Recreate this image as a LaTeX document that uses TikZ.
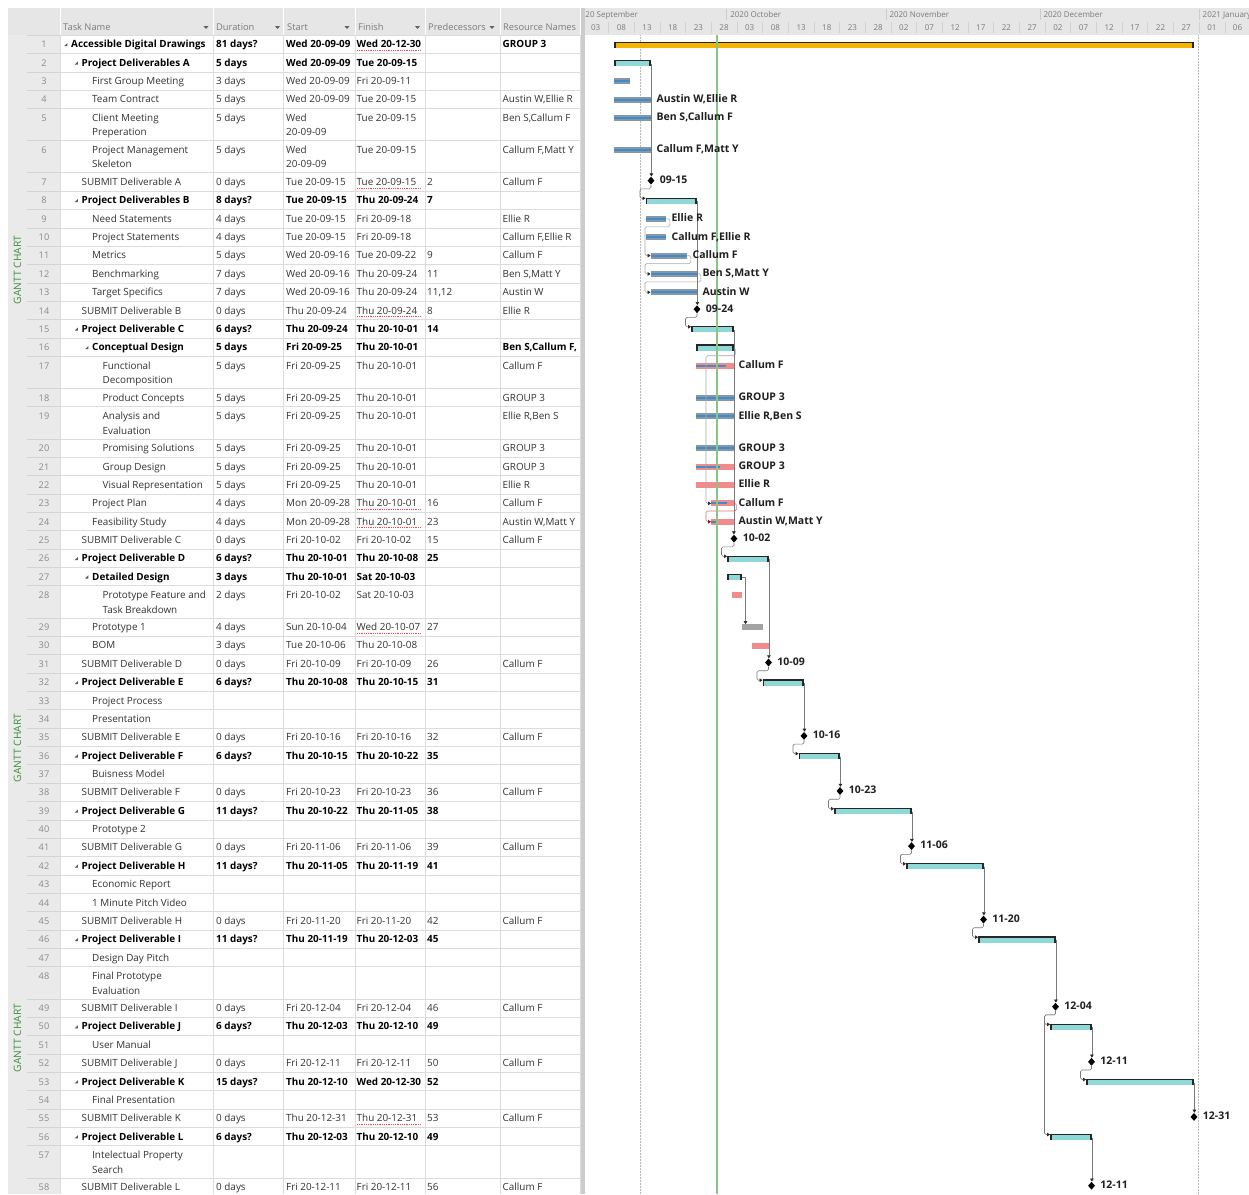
\documentclass[tikz,border=0pt]{standalone}
\usepackage{fontspec}
\setmainfont{Open Sans}
\usetikzlibrary{shapes.geometric,arrows.meta,calc,positioning}

\definecolor{hdrbg}{HTML}{E6E6E6}
\definecolor{sidebg}{HTML}{EAEAEA}
\definecolor{gridc}{HTML}{DCDCDC}
\definecolor{gridside}{HTML}{D4D4D4}
\definecolor{txt}{HTML}{333333}
\definecolor{hdrtxt}{HTML}{7A7A7A}
\definecolor{numtxt}{HTML}{8A8A8A}
\definecolor{ganttgreen}{HTML}{3A8F3A}
\definecolor{goldbar}{HTML}{F4B400}
\definecolor{cyanbar}{HTML}{8ED8D8}
\definecolor{taskgray}{HTML}{8797A8}
\definecolor{stripeblue}{HTML}{3F8CCB}
\definecolor{critpink}{HTML}{F28C8C}
\definecolor{plaingray}{HTML}{A3A3A3}
\definecolor{linkgray}{HTML}{7A7A7A}
\definecolor{linklight}{HTML}{A8A8A8}
\definecolor{linkred}{HTML}{E07070}
\definecolor{todaygreen}{RGB}{135,198,135}

\newcommand{\tabsz}{\fontsize{9.9}{11}\selectfont}
\newcommand{\hdrsz}{\fontsize{9.3}{11}\selectfont}
\newcommand{\tlsz}{\fontsize{8}{10}\selectfont}
\newcommand{\lblsz}{\fontsize{10.5}{12}\selectfont\bfseries}

% task bar node: name, style, x1, x2, yc
\newcommand{\barnode}[5]{\node[#2, minimum width={(#4)-(#3)}] (#1) at (#3,#5) {};}
% progress stripe: x1, x2, yc
\newcommand{\stripebar}[3]{\fill[stripeblue] (#1,#3-1) rectangle (#2,#3+1);}
% summary bar: name, style, x1, x2, yc
\newcommand{\summbar}[5]{%
  \node[#2, minimum width={(#4)-(#3)}] (#1) at (#3,#5+0.8) {};
  \draw[black!85, line width=1.3pt] (#3,#5-2.3) -- (#4,#5-2.3);
  \draw[black!85, line width=1.6pt] (#3+0.8,#5-2.95) -- (#3+0.8,#5+3.2)
                                     (#4-0.8,#5-2.95) -- (#4-0.8,#5+3.2);}
% summary end -> milestone
\newcommand{\drop}[2]{\draw[conn] (#1.east) -- (#1.east |- #2.north);}
% milestone -> next summary
\newcommand{\jog}[2]{\draw[conn, rounded corners=1.5pt] (#1.south) -- ++(0,4) -| ($(#2.west)+(-5.5,-3)$) -- ($(#2.west)+(0,-3)$);}

\begin{document}
\begin{tikzpicture}[x=1pt,y=-1pt,
  cell/.style={anchor=base west, inner sep=0pt},
  hdr/.style={anchor=base west, inner sep=0pt, font=\hdrsz, text=hdrtxt},
  tl/.style={inner sep=0pt, font=\tlsz, text=hdrtxt},
  bar/.style={rectangle, inner sep=0pt, minimum height=6pt, anchor=west, draw=none},
  tbar/.style={bar, fill=taskgray},
  cbar/.style={bar, fill=critpink},
  pbar/.style={bar, fill=plaingray},
  sbar/.style={bar, fill=cyanbar, minimum height=4.8pt},
  gbar/.style={bar, fill=goldbar, minimum height=4.8pt},
  mile/.style={diamond, fill=black, draw=none, inner sep=0pt, minimum width=7pt, minimum height=8pt},
  lbl/.style={font=\lblsz, text=black!88, inner sep=0pt, text height=7.6pt, text depth=2pt},
  conn/.style={draw=linkgray, line width=0.6pt, -{Triangle[width=3.6pt,length=3pt,color=black!85]}},
  tlink/.style={conn, draw=linklight},
  rlink/.style={draw=linkred, line width=0.6pt, rounded corners=1.5pt, -{Triangle[width=3.6pt,length=3pt,color=red!70!black]}},
  gantt/.style={rotate=90, inner sep=0pt, text=ganttgreen, font=\fontsize{10.2}{12}\selectfont}
]
\useasboundingbox (0,0) rectangle (1249,1194);
\fill[white] (0,0) rectangle (1249,1194);

% ---------- backgrounds ----------
\fill[hdrbg] (8,8) rectangle (580,35);
\fill[hdrbg] (585,8) rectangle (1249,35);
\fill[sidebg] (8,35) rectangle (60,1194);
\fill[gray!40] (580.5,8) rectangle (584.5,1194);
\foreach \x in {60,213,283,355,425,500}{\draw[white, line width=1pt] (\x,8) -- (\x,35);}

% ---------- table header ----------
\node[hdr] (hTask) at (63,30.5) {Task Name};
\node[hdr] (hDur) at (216,30.5) {Duration};
\node[hdr] (hStart) at (287,30.5) {Start};
\node[hdr] (hFin) at (358,30.5) {Finish};
\node[hdr] (hPred) at (428,30.5) {Predecessors};
\node[hdr] (hRes) at (503,30.5) {Resource Names};
\foreach \x in {206,277.5,347,417.5,492}{\fill[hdrtxt!80!black] (\x-2.6,26) -- (\x+2.6,26) -- (\x,29) -- cycle;}

% ---------- grid ----------
\draw[gridc] (60,35) -- (580,35);
\draw[gridside] (27,35) -- (60,35);
\foreach \x in {60,213,283,355,425,500,580}{\draw[gridc] (\x,35) -- (\x,1194);}

% ---------- rotated side labels ----------
\node[gantt] (g1) at (17.5,270) {GANTT CHART};
\node[gantt] (g2) at (17.5,748) {GANTT CHART};
\node[gantt] (g3) at (17.5,1038) {GANTT CHART};

% ---------- table rows ----------
\foreach \rn/\yt/\hh/\lv/\bb/\nm/\nmb/\du/\st/\fn/\pr/\rs in {
1/35.0/18.36/0/1/{Accessible Digital Drawings}/{}/{81 days?}/{Wed 20-09-09}/{Wed 20-12-30}/{}/{GROUP 3},
2/53.4/18.36/1/1/{Project Deliverables A}/{}/{5 days}/{Wed 20-09-09}/{Tue 20-09-15}/{}/{},
3/71.7/18.36/2/0/{First Group Meeting}/{}/{3 days}/{Wed 20-09-09}/{Fri 20-09-11}/{}/{},
4/90.1/18.36/2/0/{Team Contract}/{}/{5 days}/{Wed 20-09-09}/{Tue 20-09-15}/{}/{Austin W,Ellie R},
5/108.4/32.1/2/0/{Client Meeting}/{Preperation}/{5 days}/{Wed}/{Tue 20-09-15}/{}/{Ben S,Callum F},
6/140.5/32.1/2/0/{Project Management}/{Skeleton}/{5 days}/{Wed}/{Tue 20-09-15}/{}/{Callum F,Matt Y},
7/172.6/18.36/1/0/{SUBMIT Deliverable A}/{}/{0 days}/{Tue 20-09-15}/{Tue 20-09-15}/{2}/{Callum F},
8/191.0/18.36/1/1/{Project Deliverables B}/{}/{8 days?}/{Tue 20-09-15}/{Thu 20-09-24}/{7}/{},
9/209.4/18.36/2/0/{Need Statements}/{}/{4 days}/{Tue 20-09-15}/{Fri 20-09-18}/{}/{Ellie R},
10/227.7/18.36/2/0/{Project Statements}/{}/{4 days}/{Tue 20-09-15}/{Fri 20-09-18}/{}/{Callum F,Ellie R},
11/246.1/18.36/2/0/{Metrics}/{}/{5 days}/{Wed 20-09-16}/{Tue 20-09-22}/{9}/{Callum F},
12/264.4/18.36/2/0/{Benchmarking}/{}/{7 days}/{Wed 20-09-16}/{Thu 20-09-24}/{11}/{Ben S,Matt Y},
13/282.8/18.36/2/0/{Target Specifics}/{}/{7 days}/{Wed 20-09-16}/{Thu 20-09-24}/{11,12}/{Austin W},
14/301.2/18.36/1/0/{SUBMIT Deliverable B}/{}/{0 days}/{Thu 20-09-24}/{Thu 20-09-24}/{8}/{Ellie R},
15/319.5/18.36/1/1/{Project Deliverable C}/{}/{6 days?}/{Thu 20-09-24}/{Thu 20-10-01}/{14}/{},
16/337.9/18.36/2/1/{Conceptual Design}/{}/{5 days}/{Fri 20-09-25}/{Thu 20-10-01}/{}/{Ben S,Callum F,},
17/356.2/32.1/3/0/{Functional}/{Decomposition}/{5 days}/{Fri 20-09-25}/{Thu 20-10-01}/{}/{Callum F},
18/388.3/18.36/3/0/{Product Concepts}/{}/{5 days}/{Fri 20-09-25}/{Thu 20-10-01}/{}/{GROUP 3},
19/406.7/32.1/3/0/{Analysis and}/{Evaluation}/{5 days}/{Fri 20-09-25}/{Thu 20-10-01}/{}/{Ellie R,Ben S},
20/438.8/18.36/3/0/{Promising Solutions}/{}/{5 days}/{Fri 20-09-25}/{Thu 20-10-01}/{}/{GROUP 3},
21/457.2/18.36/3/0/{Group Design}/{}/{5 days}/{Fri 20-09-25}/{Thu 20-10-01}/{}/{GROUP 3},
22/475.5/18.36/3/0/{Visual Representation}/{}/{5 days}/{Fri 20-09-25}/{Thu 20-10-01}/{}/{Ellie R},
23/493.9/18.36/2/0/{Project Plan}/{}/{4 days}/{Mon 20-09-28}/{Thu 20-10-01}/{16}/{Callum F},
24/512.2/18.36/2/0/{Feasibility Study}/{}/{4 days}/{Mon 20-09-28}/{Thu 20-10-01}/{23}/{Austin W,Matt Y},
25/530.6/18.36/1/0/{SUBMIT Deliverable C}/{}/{0 days}/{Fri 20-10-02}/{Fri 20-10-02}/{15}/{Callum F},
26/549.0/18.36/1/1/{Project Deliverable D}/{}/{6 days?}/{Thu 20-10-01}/{Thu 20-10-08}/{25}/{},
27/567.3/18.36/2/1/{Detailed Design}/{}/{3 days}/{Thu 20-10-01}/{Sat 20-10-03}/{}/{},
28/585.7/32.1/3/0/{Prototype Feature and}/{Task Breakdown}/{2 days}/{Fri 20-10-02}/{Sat 20-10-03}/{}/{},
29/617.8/18.36/2/0/{Prototype 1}/{}/{4 days}/{Sun 20-10-04}/{Wed 20-10-07}/{27}/{},
30/636.1/18.36/2/0/{BOM}/{}/{3 days}/{Tue 20-10-06}/{Thu 20-10-08}/{}/{},
31/654.5/18.36/1/0/{SUBMIT Deliverable D}/{}/{0 days}/{Fri 20-10-09}/{Fri 20-10-09}/{26}/{Callum F},
32/672.9/18.36/1/1/{Project Deliverable E}/{}/{6 days?}/{Thu 20-10-08}/{Thu 20-10-15}/{31}/{},
33/691.2/18.36/2/0/{Project Process}/{}/{}/{}/{}/{}/{},
34/709.6/18.36/2/0/{Presentation}/{}/{}/{}/{}/{}/{},
35/727.9/18.36/1/0/{SUBMIT Deliverable E}/{}/{0 days}/{Fri 20-10-16}/{Fri 20-10-16}/{32}/{Callum F},
36/746.3/18.36/1/1/{Project Deliverable F}/{}/{6 days?}/{Thu 20-10-15}/{Thu 20-10-22}/{35}/{},
37/764.7/18.36/2/0/{Buisness Model}/{}/{}/{}/{}/{}/{},
38/783.0/18.36/1/0/{SUBMIT Deliverable F}/{}/{0 days}/{Fri 20-10-23}/{Fri 20-10-23}/{36}/{Callum F},
39/801.4/18.36/1/1/{Project Deliverable G}/{}/{11 days?}/{Thu 20-10-22}/{Thu 20-11-05}/{38}/{},
40/819.7/18.36/2/0/{Prototype 2}/{}/{}/{}/{}/{}/{},
41/838.1/18.36/1/0/{SUBMIT Deliverable G}/{}/{0 days}/{Fri 20-11-06}/{Fri 20-11-06}/{39}/{Callum F},
42/856.5/18.36/1/1/{Project Deliverable H}/{}/{11 days?}/{Thu 20-11-05}/{Thu 20-11-19}/{41}/{},
43/874.8/18.36/2/0/{Economic Report}/{}/{}/{}/{}/{}/{},
44/893.2/18.36/2/0/{1 Minute Pitch Video}/{}/{}/{}/{}/{}/{},
45/911.5/18.36/1/0/{SUBMIT Deliverable H}/{}/{0 days}/{Fri 20-11-20}/{Fri 20-11-20}/{42}/{Callum F},
46/929.9/18.36/1/1/{Project Deliverable I}/{}/{11 days?}/{Thu 20-11-19}/{Thu 20-12-03}/{45}/{},
47/948.3/18.36/2/0/{Design Day Pitch}/{}/{}/{}/{}/{}/{},
48/966.6/32.1/2/0/{Final Prototype}/{Evaluation}/{}/{}/{}/{}/{},
49/998.7/18.36/1/0/{SUBMIT Deliverable I}/{}/{0 days}/{Fri 20-12-04}/{Fri 20-12-04}/{46}/{Callum F},
50/1017.1/18.36/1/1/{Project Deliverable J}/{}/{6 days?}/{Thu 20-12-03}/{Thu 20-12-10}/{49}/{},
51/1035.4/18.36/2/0/{User Manual}/{}/{}/{}/{}/{}/{},
52/1053.8/18.36/1/0/{SUBMIT Deliverable J}/{}/{0 days}/{Fri 20-12-11}/{Fri 20-12-11}/{50}/{Callum F},
53/1072.2/18.36/1/1/{Project Deliverable K}/{}/{15 days?}/{Thu 20-12-10}/{Wed 20-12-30}/{52}/{},
54/1090.5/18.36/2/0/{Final Presentation}/{}/{}/{}/{}/{}/{},
55/1108.9/18.36/1/0/{SUBMIT Deliverable K}/{}/{0 days}/{Thu 20-12-31}/{Thu 20-12-31}/{53}/{Callum F},
56/1127.2/18.36/1/1/{Project Deliverable L}/{}/{6 days?}/{Thu 20-12-03}/{Thu 20-12-10}/{49}/{},
57/1145.6/32.1/2/0/{Intelectual Property}/{Search}/{}/{}/{}/{}/{},
58/1177.7/18.36/1/0/{SUBMIT Deliverable L}/{}/{0 days}/{Fri 20-12-11}/{Fri 20-12-11}/{56}/{Callum F}}{
  \ifnum\bb=1 \def\cf{\bfseries}\def\cc{black}\else\def\cf{\mdseries}\def\cc{txt}\fi
  \pgfmathsetmacro\tx{71+10.5*\lv}
  \draw[gridc] (60,\yt+\hh) -- (580,\yt+\hh);
  \draw[gridside] (27,\yt+\hh) -- (60,\yt+\hh);
  \node[inner sep=0pt, anchor=base, font=\fontsize{9.2}{11}\selectfont, text=numtxt] (num\rn) at (44,\yt+12.8) {\rn};
  \ifnum\bb=1 \fill[black!65] (\tx-6.8,\yt+11.2) -- (\tx-3.6,\yt+11.2) -- (\tx-3.6,\yt+8) -- cycle; \fi
  \node[cell, font=\tabsz\cf, text=\cc] (nm\rn) at (\tx,\yt+12.8) {\nm};
  \node[cell, font=\tabsz\cf, text=\cc] (nmb\rn) at (\tx,\yt+27.4) {\nmb};
  \node[cell, font=\tabsz\cf, text=\cc] (du\rn) at (216,\yt+12.8) {\du};
  \begin{scope}
    \clip (283.5,\yt) rectangle (354.5,\yt+\hh);
    \node[cell, font=\tabsz\cf, text=\cc] (st\rn) at (286,\yt+12.8) {\st};
  \end{scope}
  \begin{scope}
    \clip (355.5,\yt) rectangle (424.5,\yt+\hh);
    \node[cell, font=\tabsz\cf, text=\cc] (fn\rn) at (356.5,\yt+12.8) {\fn};
  \end{scope}
  \node[cell, font=\tabsz\cf, text=\cc] (pr\rn) at (427,\yt+12.8) {\pr};
  \begin{scope}
    \clip (500.5,\yt) rectangle (579.5,\yt+\hh);
    \node[cell, font=\tabsz\cf, text=\cc] (rs\rn) at (502.5,\yt+12.8) {\rs};
  \end{scope}
}
% wrapped start dates
\node[cell, font=\tabsz, text=txt] (st5b) at (286,108.4+27.4) {20-09-09};
\node[cell, font=\tabsz, text=txt] (st6b) at (286,140.5+27.4) {20-09-09};
% spell-check underlines under some finish dates
\begin{scope}
  \clip (355.5,35) rectangle (424.5,1194);
  \foreach \yt in {35.0,172.6,301.2,493.9,512.2,617.8,1108.9}{
    \draw[red!75, densely dotted, line width=0.8pt] (357,\yt+15.3) -- (421,\yt+15.3);}
\end{scope}

% ---------- timescale ----------
\begin{scope}
  \clip (585,8) rectangle (1249,35);
  \foreach \mx/\mt [count=\i] in {572.6/2020 September,726.6/2020 October,885.8/2020 November,1039.8/2020 December,1199/2021 January}{
    \draw[gray!40] (\mx,9) -- (\mx,20);
    \node[tl, anchor=base west] (mon\i) at (\mx+3.5,17.3) {\mt};
  }
  \foreach \k in {0,...,24}{\draw[gray!35] ({608.5+25.675*\k},22) -- ({608.5+25.675*\k},33);}
  \foreach \lab [count=\k from 0] in {03,08,13,18,23,28,03,08,13,18,23,28,02,07,12,17,22,27,02,07,12,17,22,27,01,06}{
    \node[tl, anchor=base] (day\k) at ({608.5+5.135*(5*\k-2.5)},30.5) {\lab};
  }
\end{scope}

% ---------- chart guide lines ----------
\draw[gray!55, densely dotted, line width=0.5pt] (640,35) -- (640,1194);
\draw[gray!55, densely dotted, line width=0.5pt] (1198,35) -- (1198,1194);

% ---------- bars ----------
\summbar{b1}{gbar}{614}{1194}{44.5}
\summbar{b2}{sbar}{614}{651}{62.9}
\barnode{b3}{tbar}{614}{630}{81.2}\stripebar{614}{630}{81.2}
\barnode{b4}{tbar}{614}{651}{99.6}\stripebar{614}{651}{99.6}
\barnode{b5}{tbar}{614}{651}{117.9}\stripebar{614}{651}{117.9}
\barnode{b6}{tbar}{614}{651}{150.0}\stripebar{614}{651}{150.0}
\node[mile] (m7) at (651,180.6) {};
\summbar{b8}{sbar}{645.5}{697}{200.5}
\barnode{b9}{tbar}{645.5}{666}{218.9}\stripebar{645.5}{666}{218.9}
\barnode{b10}{tbar}{645.5}{666}{237.2}\stripebar{645.5}{666}{237.2}
\barnode{b11}{tbar}{650.5}{687}{255.6}\stripebar{650.5}{687}{255.6}
\barnode{b12}{tbar}{650.5}{697}{273.9}\stripebar{650.5}{697}{273.9}
\barnode{b13}{tbar}{650.5}{697}{292.3}\stripebar{650.5}{697}{292.3}
\node[mile] (m14) at (697,309.2) {};
\summbar{b15}{sbar}{691}{733.5}{329.0}
\summbar{b16}{sbar}{696}{733.5}{347.4}
\barnode{b17}{cbar}{696}{733.5}{365.7}\stripebar{696}{726}{365.7}
\barnode{b18}{tbar}{696}{733.5}{397.8}\stripebar{696}{733.5}{397.8}
\barnode{b19}{tbar}{696}{733.5}{416.2}\stripebar{696}{733.5}{416.2}
\barnode{b20}{tbar}{696}{733.5}{448.3}\stripebar{696}{733.5}{448.3}
\barnode{b21}{cbar}{696}{733.5}{466.7}\stripebar{696}{720}{466.7}
\barnode{b22}{cbar}{696}{733.5}{485.0}
\barnode{b23}{cbar}{711}{733.5}{503.4}\stripebar{711}{727}{503.4}
\barnode{b24}{cbar}{711}{733.5}{521.7}\stripebar{711}{717}{521.7}
\node[mile] (m25) at (734,538.6) {};
\summbar{b26}{sbar}{727}{768.5}{558.5}
\summbar{b27}{sbar}{727}{742}{576.8}
\barnode{b28}{cbar}{732}{742}{595.2}
\barnode{b29}{pbar}{742}{763}{627.3}
\barnode{b30}{cbar}{752}{768.5}{645.6}
\node[mile] (m31) at (768.5,662.5) {};
\summbar{b32}{sbar}{762.5}{804}{682.4}
\node[mile] (m35) at (804,735.9) {};
\summbar{b36}{sbar}{798.5}{840}{755.8}
\node[mile] (m38) at (840,791.0) {};
\summbar{b39}{sbar}{834}{911.5}{810.9}
\node[mile] (m41) at (911.5,846.1) {};
\summbar{b42}{sbar}{906}{983.5}{866.0}
\node[mile] (m45) at (983.5,919.5) {};
\summbar{b46}{sbar}{978}{1055.5}{939.4}
\node[mile] (m49) at (1055.5,1006.7) {};
\summbar{b50}{sbar}{1050}{1091.5}{1026.6}
\node[mile] (m52) at (1091.5,1061.8) {};
\summbar{b53}{sbar}{1086}{1194}{1081.7}
\node[mile] (m55) at (1194,1116.9) {};
\summbar{b56}{sbar}{1050}{1091.5}{1136.7}
\node[mile] (m58) at (1091.5,1185.7) {};

% ---------- connectors ----------
\drop{b2}{m7}
\jog{m7}{b8}
\draw[tlink, rounded corners=1.5pt] (b9.east) -| ++(3.5,8) -| ($(b11.west)+(-5.5,0)$) -- (b11.west);
\draw[tlink, rounded corners=1.5pt] (b11.east) -| ++(3.5,8) -| ($(b12.west)+(-5.5,0)$) -- (b12.west);
\draw[tlink, rounded corners=1.5pt] (b12.east) -| ++(3.5,8) -| ($(b13.west)+(-5.5,0)$) -- (b13.west);
\drop{b8}{m14}
\jog{m14}{b15}
\draw[tlink, rounded corners=1.5pt] (b16.east) -| ++(1.5,7.5) -| ($(b23.west)+(-5,0)$) -- (b23.west);
\draw[rlink] (b23.east) -| ++(2.5,7.6) -| ($(b24.west)+(-5,0)$) -- (b24.west);
\drop{b15}{m25}
\jog{m25}{b26}
\draw[conn] (b27.east) -| ($(b29.north west)+(3.5,0)$);
\drop{b26}{m31}
\jog{m31}{b32}
\drop{b32}{m35}
\jog{m35}{b36}
\drop{b36}{m38}
\jog{m38}{b39}
\drop{b39}{m41}
\jog{m41}{b42}
\drop{b42}{m45}
\jog{m45}{b46}
\drop{b46}{m49}
\jog{m49}{b50}
\jog{m49}{b56}
\drop{b50}{m52}
\jog{m52}{b53}
\drop{b53}{m55}
\drop{b56}{m58}

% ---------- status date line ----------
\draw[draw=todaygreen, line width=1.2pt] (717,35) -- (717,1194);

% ---------- bar labels ----------
\node[lbl, anchor=west, right=5pt of b4] (l4) {Austin W,Ellie R};
\node[lbl, anchor=west, right=5pt of b5] (l5) {Ben S,Callum F};
\node[lbl, anchor=west, right=5pt of b6] (l6) {Callum F,Matt Y};
\node[lbl, anchor=west, right=5pt of m7] (l7) {09-15};
\node[lbl, anchor=west, right=5pt of b9] (l9) {Ellie R};
\node[lbl, anchor=west, right=5pt of b10] (l10) {Callum F,Ellie R};
\node[lbl, anchor=west, right=5pt of b11] (l11) {Callum F};
\node[lbl, anchor=west, right=5pt of b12] (l12) {Ben S,Matt Y};
\node[lbl, anchor=west, right=5pt of b13] (l13) {Austin W};
\node[lbl, anchor=west, right=5pt of m14] (l14) {09-24};
\node[lbl, anchor=west, right=4.5pt of b17] (l17) {Callum F};
\node[lbl, anchor=west, right=4.5pt of b18] (l18) {GROUP 3};
\node[lbl, anchor=west, right=4.5pt of b19] (l19) {Ellie R,Ben S};
\node[lbl, anchor=west, right=4.5pt of b20] (l20) {GROUP 3};
\node[lbl, anchor=west, right=4.5pt of b21] (l21) {GROUP 3};
\node[lbl, anchor=west, right=4.5pt of b22] (l22) {Ellie R};
\node[lbl, anchor=west, right=4.5pt of b23] (l23) {Callum F};
\node[lbl, anchor=west, right=4.5pt of b24] (l24) {Austin W,Matt Y};
\node[lbl, anchor=west, right=5pt of m25] (l25) {10-02};
\node[lbl, anchor=west, right=5pt of m31] (l31) {10-09};
\node[lbl, anchor=west, right=5pt of m35] (l35) {10-16};
\node[lbl, anchor=west, right=5pt of m38] (l38) {10-23};
\node[lbl, anchor=west, right=5pt of m41] (l41) {11-06};
\node[lbl, anchor=west, right=5pt of m45] (l45) {11-20};
\node[lbl, anchor=west, right=5pt of m49] (l49) {12-04};
\node[lbl, anchor=west, right=5pt of m52] (l52) {12-11};
\node[lbl, anchor=west, right=5pt of m55] (l55) {12-31};
\node[lbl, anchor=west, right=5pt of m58] (l58) {12-11};
\end{tikzpicture}
\end{document}
